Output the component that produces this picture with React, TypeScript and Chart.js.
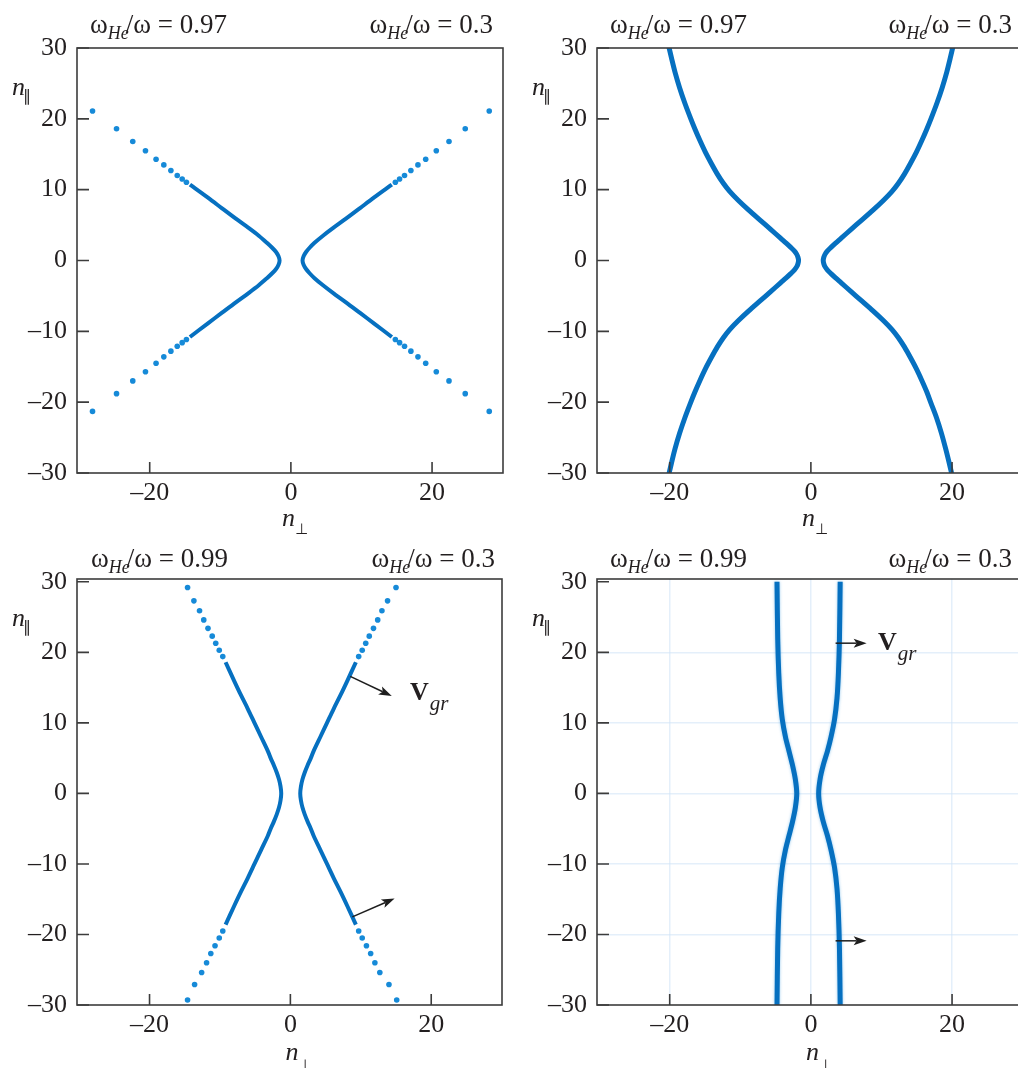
import React, { useEffect, useRef } from 'react';
import { Chart, registerables } from 'chart.js';

Chart.register(...registerables);

type Pt = [number, number];

// ---------- tick values ----------
const xTickValues = [-20, 0, 20];
const yTickValues = [-30, -20, -10, 0, 10, 20, 30];

// ---------- panel titles ----------
const leftRatios = ['0.97', '0.97', '0.99', '0.99'];
const rightRatios = ['0.3', '0.3', '0.3', '0.3'];

// ---------- panel 1 (top-left) ----------
const p1RightSolid: Pt[] = [
  [14.3, -10.8], [11.8, -8.9], [9.8, -7.4], [7.8, -5.9], [6.0, -4.6], [4.55, -3.5], [3.35, -2.5],
  [2.65, -1.8], [2.15, -1.2], [1.8, -0.6], [1.65, 0], [1.8, 0.6], [2.15, 1.2], [2.65, 1.8],
  [3.35, 2.5], [4.55, 3.5], [6.0, 4.6], [7.8, 5.9], [9.8, 7.4], [11.8, 8.9], [14.3, 10.7],
];
const p1LeftSolid: Pt[] = [
  [-14.3, -10.8], [-11.8, -8.9], [-9.8, -7.4], [-7.8, -5.9], [-6.0, -4.6], [-4.55, -3.5], [-3.4, -2.5],
  [-2.65, -1.8], [-2.1, -1.2], [-1.75, -0.6], [-1.6, 0], [-1.75, 0.6], [-2.1, 1.2], [-2.65, 1.8],
  [-3.4, 2.5], [-4.55, 3.5], [-6.0, 4.6], [-7.8, 5.9], [-9.8, 7.4], [-11.8, 8.9], [-14.3, 10.7],
];
const p1Dots: Pt[] = [
  [14.8, 11.05], [15.4, 11.5], [16.1, 12.0], [17.0, 12.7], [18.0, 13.5], [19.1, 14.3], [20.6, 15.5], [22.4, 16.8], [24.7, 18.6], [28.1, 21.1],
  [-14.8, 11.05], [-15.4, 11.5], [-16.1, 12.0], [-17.0, 12.7], [-18.0, 13.5], [-19.1, 14.3], [-20.6, 15.5], [-22.4, 16.8], [-24.7, 18.6], [-28.1, 21.1],
  [14.8, -11.15], [15.4, -11.6], [16.1, -12.1], [17.0, -12.8], [18.0, -13.6], [19.1, -14.5], [20.6, -15.7], [22.4, -17.0], [24.7, -18.8], [28.1, -21.3],
  [-14.8, -11.15], [-15.4, -11.6], [-16.1, -12.1], [-17.0, -12.8], [-18.0, -13.6], [-19.1, -14.5], [-20.6, -15.7], [-22.4, -17.0], [-24.7, -18.8], [-28.1, -21.3],
];

// ---------- panel 2 (top-right) ----------
const p2Left: Pt[] = [
  [-20.15, -30.3], [-19.75, -28.6], [-19.25, -26.6], [-18.6, -24.4], [-17.85, -22.2], [-17.05, -20.1],
  [-16.4, -18.5], [-15.7, -16.9], [-14.95, -15.3], [-14.1, -13.7], [-13.25, -12.2], [-12.4, -10.9],
  [-11.5, -9.75], [-10.3, -8.5], [-8.8, -7.1], [-7.2, -5.7], [-5.7, -4.4], [-4.3, -3.15], [-3.5, -2.45],
  [-2.85, -1.85], [-2.35, -1.35], [-2.02, -0.9], [-1.83, -0.45], [-1.75, 0], [-1.83, 0.45], [-2.02, 0.9],
  [-2.35, 1.35], [-2.85, 1.85], [-3.5, 2.45], [-4.3, 3.15], [-5.7, 4.4], [-7.2, 5.7], [-8.8, 7.1],
  [-10.3, 8.5], [-11.5, 9.75], [-12.4, 10.9], [-13.25, 12.2], [-14.1, 13.7], [-14.95, 15.3], [-15.7, 16.9],
  [-16.4, 18.5], [-17.05, 20.1], [-17.85, 22.2], [-18.6, 24.4], [-19.25, 26.6], [-19.75, 28.6], [-20.15, 30.3],
];
const p2Right: Pt[] = [
  [20.0, -30.3], [19.6, -28.6], [19.1, -26.6], [18.5, -24.4], [17.8, -22.2], [17.0, -20.1],
  [16.4, -18.5], [15.7, -16.9], [14.95, -15.3], [14.1, -13.7], [13.25, -12.2], [12.4, -10.9],
  [11.5, -9.75], [10.3, -8.5], [8.8, -7.1], [7.2, -5.7], [5.7, -4.4], [4.3, -3.15], [3.5, -2.45],
  [2.85, -1.85], [2.35, -1.35], [2.02, -0.9], [1.83, -0.45], [1.75, 0], [1.83, 0.45], [2.02, 0.9],
  [2.35, 1.35], [2.85, 1.85], [3.5, 2.45], [4.3, 3.15], [5.7, 4.4], [7.2, 5.7], [8.8, 7.1],
  [10.3, 8.5], [11.5, 9.75], [12.4, 10.9], [13.25, 12.2], [14.1, 13.7], [14.95, 15.3], [15.7, 16.9],
  [16.4, 18.5], [17.05, 20.1], [17.85, 22.2], [18.6, 24.4], [19.25, 26.6], [19.75, 28.6], [20.15, 30.3],
];

// ---------- panel 3 (bottom-left) ----------
const p3RightSolid: Pt[] = [
  [9.3, -18.6], [8.1, -16], [7.15, -14], [6.15, -12], [5.2, -10], [4.25, -8], [3.3, -6], [2.9, -5],
  [2.45, -4], [2.05, -3], [1.72, -2], [1.5, -1], [1.4, 0], [1.5, 1], [1.72, 2], [2.05, 3], [2.45, 4],
  [2.9, 5], [3.3, 6], [4.25, 8], [5.2, 10], [6.15, 12], [7.15, 14], [8.1, 16], [9.3, 18.6],
];
const p3LeftSolid: Pt[] = [
  [-9.2, -18.6], [-8.0, -16], [-7.05, -14], [-6.05, -12], [-5.1, -10], [-4.15, -8], [-3.2, -6], [-2.8, -5],
  [-2.35, -4], [-1.95, -3], [-1.62, -2], [-1.4, -1], [-1.3, 0], [-1.4, 1], [-1.62, 2], [-1.95, 3], [-2.35, 4],
  [-2.8, 5], [-3.2, 6], [-4.15, 8], [-5.1, 10], [-6.05, 12], [-7.05, 14], [-8.0, 16], [-9.2, 18.6],
];
const p3Dots: Pt[] = [
  [9.7, 19.4], [10.2, 20.3], [10.7, 21.3], [11.2, 22.3], [11.8, 23.4], [12.4, 24.6], [13.0, 25.9], [13.8, 27.3], [15.0, 29.2],
  [-9.6, 19.4], [-10.1, 20.3], [-10.6, 21.3], [-11.1, 22.3], [-11.7, 23.4], [-12.3, 24.6], [-12.9, 25.9], [-13.7, 27.3], [-14.6, 29.2],
  [9.7, -19.5], [10.2, -20.5], [10.8, -21.6], [11.4, -22.7], [12.0, -24.0], [12.7, -25.4], [14.0, -27.1], [15.1, -29.3],
  [-9.6, -19.5], [-10.1, -20.5], [-10.7, -21.6], [-11.3, -22.7], [-11.9, -24.0], [-12.6, -25.4], [-13.6, -27.1], [-14.6, -29.3],
];

// ---------- panel 4 (bottom-right) ----------
const p4Left: Pt[] = [
  [-4.8, -30], [-4.7, -22], [-4.55, -17], [-4.35, -13.5], [-4.05, -10.5], [-3.6, -8], [-3.1, -6],
  [-2.6, -4], [-2.2, -2], [-2.0, 0], [-2.2, 2], [-2.6, 4], [-3.1, 6], [-3.6, 8], [-4.05, 10.5],
  [-4.35, 13.5], [-4.55, 17], [-4.7, 22], [-4.8, 30],
];
const p4Right: Pt[] = [
  [4.15, -30], [4.05, -22], [3.9, -17], [3.7, -13.5], [3.35, -10.5], [2.85, -8], [2.35, -6],
  [1.75, -4], [1.3, -2], [1.1, 0], [1.3, 2], [1.75, 4], [2.35, 6], [2.85, 8], [3.35, 10.5],
  [3.7, 13.5], [3.9, 17], [4.05, 22], [4.15, 30],
];

// ---------- group-velocity arrows ----------
const p3Arrows: [Pt, Pt][] = [[[8.5, 16.6], [14.4, 13.8]], [[8.8, -17.5], [14.8, -14.9]]];
const p4Arrows: [Pt, Pt][] = [[[3.5, 21.3], [7.9, 21.3]], [[3.5, -20.9], [7.9, -20.9]]];
const p3Vgr: Pt = [17.0, 13.2];
const p4Vgr: Pt = [9.5, 20.3];

// ---------- styles ----------
const TEXT = '#231f20';
const AXIS = '#3c3c3c';
const LINE = '#0670c0';
const DOT = '#168ad8';
const SERIF = "'Liberation Serif', 'Times New Roman', serif";

interface Spec {
  left: number; top: number; width: number; height: number;
  area: { left: number; top: number; right: number; bottom: number };
  xMin: number; xMax: number; yMin: number; yMax: number;
  solids: Pt[][]; dots: Pt[]; lineWidth: number; grid: boolean; glow: boolean;
  leftRatio: string; rightRatio: string;
  titleLeftX: number; titleRightX: number; titleBaseline: number;
  xLabelDx: number; xLabelDy: number; xSubDy: number;
  arrows: [Pt, Pt][]; vgr: Pt | null;
}

const X_AXIS_H = 40;

const specs: Spec[] = [
  {
    left: 0, top: 0, width: 510, height: 540,
    area: { left: 77, top: 48, right: 503, bottom: 473 },
    xMin: -30.3, xMax: 30.05, yMin: -30, yMax: 30,
    solids: [p1LeftSolid, p1RightSolid], dots: p1Dots, lineWidth: 4, grid: false, glow: false,
    leftRatio: leftRatios[0], rightRatio: rightRatios[0],
    titleLeftX: 90, titleRightX: 493, titleBaseline: 33,
    xLabelDx: -9, xLabelDy: 53, xSubDy: 8, arrows: [], vgr: null,
  },
  {
    left: 510, top: 0, width: 518, height: 540,
    area: { left: 87, top: 48, right: 513, bottom: 473 },
    xMin: -30.3, xMax: 30.05, yMin: -30, yMax: 30,
    solids: [p2Left, p2Right], dots: [], lineWidth: 5, grid: false, glow: false,
    leftRatio: leftRatios[1], rightRatio: rightRatios[1],
    titleLeftX: 100, titleRightX: 502, titleBaseline: 33,
    xLabelDx: -9, xLabelDy: 53, xSubDy: 8, arrows: [], vgr: null,
  },
  {
    left: 0, top: 540, width: 510, height: 528,
    area: { left: 77, top: 39, right: 502, bottom: 465 },
    xMin: -30.3, xMax: 30.05, yMin: -30, yMax: 30.4,
    solids: [p3LeftSolid, p3RightSolid], dots: p3Dots, lineWidth: 4, grid: false, glow: false,
    leftRatio: leftRatios[2], rightRatio: rightRatios[2],
    titleLeftX: 91, titleRightX: 495, titleBaseline: 27,
    xLabelDx: -5, xLabelDy: 55, xSubDy: 10, arrows: p3Arrows, vgr: p3Vgr,
  },
  {
    left: 510, top: 540, width: 518, height: 528,
    area: { left: 87, top: 39, right: 513, bottom: 465 },
    xMin: -30.3, xMax: 30.05, yMin: -30, yMax: 30.4,
    solids: [p4Left, p4Right], dots: [], lineWidth: 5, grid: true, glow: true,
    leftRatio: leftRatios[3], rightRatio: rightRatios[3],
    titleLeftX: 100, titleRightX: 502, titleBaseline: 27,
    xLabelDx: -5, xLabelDy: 55, xSubDy: 10, arrows: p4Arrows, vgr: p4Vgr,
  },
];

function fmtTick(v: number): string {
  return v < 0 ? '\u2013' + Math.abs(v) : String(v);
}

function drawRatio(ctx: CanvasRenderingContext2D, x: number, y: number, value: string, alignRight: boolean) {
  const main = `27px ${SERIF}`;
  const sub = `italic 18px ${SERIF}`;
  const p1 = '\u03c9';
  const p2 = 'He';
  const p3 = '/\u03c9 = ' + value;
  ctx.font = main; const w1 = ctx.measureText(p1).width;
  ctx.font = sub; const w2 = ctx.measureText(p2).width;
  ctx.font = main; const w3 = ctx.measureText(p3).width;
  const overlap = 3;
  const total = w1 + w2 - overlap + w3;
  let sx = alignRight ? x - total : x;
  ctx.fillStyle = TEXT;
  ctx.textAlign = 'left';
  ctx.textBaseline = 'alphabetic';
  ctx.font = main; ctx.fillText(p1, sx, y);
  sx += w1;
  ctx.font = sub; ctx.fillText(p2, sx, y + 6);
  sx += w2 - overlap;
  ctx.font = main; ctx.fillText(p3, sx, y);
}

function drawArrow(ctx: CanvasRenderingContext2D, x1: number, y1: number, x2: number, y2: number) {
  const ang = Math.atan2(y2 - y1, x2 - x1);
  const head = 13, hw = 4.5, notch = 3;
  const c = Math.cos(ang), s = Math.sin(ang);
  const bx = x2 - head * c, by = y2 - head * s;
  ctx.beginPath();
  ctx.moveTo(x1, y1);
  ctx.lineTo(x2 - (head - notch) * c, y2 - (head - notch) * s);
  ctx.stroke();
  ctx.beginPath();
  ctx.moveTo(x2, y2);
  ctx.lineTo(bx - hw * s, by + hw * c);
  ctx.lineTo(x2 - (head - notch) * c, y2 - (head - notch) * s);
  ctx.lineTo(bx + hw * s, by - hw * c);
  ctx.closePath();
  ctx.fill();
}

function makePlugin(spec: Spec) {
  return {
    id: 'frame',
    beforeDatasetsDraw(chart: any) {
      if (!spec.glow) return;
      const ctx = chart.ctx as CanvasRenderingContext2D;
      ctx.save();
      ctx.shadowColor = 'rgba(70,160,225,0.6)';
      ctx.shadowBlur = 3;
    },
    afterDatasetsDraw(chart: any) {
      if (!spec.glow) return;
      chart.ctx.restore();
    },
    afterDraw(chart: any) {
      const ctx = chart.ctx as CanvasRenderingContext2D;
      const a = chart.chartArea;
      const xs = chart.scales.x, ys = chart.scales.y;
      ctx.save();
      ctx.shadowColor = 'transparent';
      ctx.strokeStyle = AXIS;
      ctx.lineWidth = 1.6;
      ctx.strokeRect(a.left, a.top, a.right - a.left, a.bottom - a.top);
      ctx.beginPath();
      for (const v of xTickValues) {
        const px = xs.getPixelForValue(v);
        ctx.moveTo(px, a.bottom); ctx.lineTo(px, a.bottom - 11);
      }
      for (const v of yTickValues) {
        const py = ys.getPixelForValue(v);
        ctx.moveTo(a.left, py); ctx.lineTo(a.left + 12, py);
      }
      ctx.stroke();

      // titles
      drawRatio(ctx, spec.titleLeftX, spec.titleBaseline, spec.leftRatio, false);
      drawRatio(ctx, spec.titleRightX, spec.titleBaseline, spec.rightRatio, true);

      // y label n_parallel
      ctx.fillStyle = TEXT;
      ctx.textAlign = 'left';
      ctx.textBaseline = 'alphabetic';
      ctx.font = `italic 26px ${SERIF}`;
      const nyX = a.left - 65, nyY = a.top + 47;
      ctx.fillText('n', nyX, nyY);
      const nW = ctx.measureText('n').width;
      ctx.font = `16px 'DejaVu Sans', sans-serif`;
      ctx.fillText('\u2225', nyX + nW - 2, nyY + 6);

      // x label n_perp
      ctx.font = `italic 26px ${SERIF}`;
      const nxX = xs.getPixelForValue(0) + spec.xLabelDx;
      const nxY = a.bottom + spec.xLabelDy;
      ctx.fillText('n', nxX, nxY);
      ctx.font = `15px 'DejaVu Sans', sans-serif`;
      ctx.fillText('\u22a5', nxX + nW, nxY + spec.xSubDy);

      // arrows
      ctx.strokeStyle = '#1e1e1e';
      ctx.fillStyle = '#1e1e1e';
      ctx.lineWidth = 1.5;
      for (const [p, q] of spec.arrows) {
        drawArrow(ctx, xs.getPixelForValue(p[0]), ys.getPixelForValue(p[1]), xs.getPixelForValue(q[0]), ys.getPixelForValue(q[1]));
      }
      if (spec.vgr) {
        const vx = xs.getPixelForValue(spec.vgr[0]);
        const vy = ys.getPixelForValue(spec.vgr[1]);
        ctx.fillStyle = TEXT;
        ctx.font = `bold 26px ${SERIF}`;
        ctx.fillText('V', vx, vy);
        const vw = ctx.measureText('V').width;
        ctx.font = `italic 21px ${SERIF}`;
        ctx.fillText('gr', vx + vw + 1, vy + 10);
      }
      ctx.restore();
    },
  };
}

function buildConfig(spec: Spec): any {
  const datasets: any[] = spec.solids.map((pts) => ({
    data: pts.map(([x, y]) => ({ x, y })),
    showLine: true,
    pointRadius: 0,
    borderColor: LINE,
    borderWidth: spec.lineWidth,
    tension: 0.3,
    fill: false,
  }));
  if (spec.dots.length) {
    datasets.push({
      data: spec.dots.map(([x, y]) => ({ x, y })),
      showLine: false,
      pointRadius: 2.8,
      pointBackgroundColor: DOT,
      pointBorderWidth: 0,
    });
  }
  const a = spec.area;
  const gridColor = (c: any) => (c.tick && Math.abs(c.tick.value) <= 20 ? 'rgba(205,225,245,0.55)' : 'transparent');
  return {
    type: 'scatter',
    data: { datasets },
    plugins: [makePlugin(spec)],
    options: {
      animation: false,
      responsive: false,
      maintainAspectRatio: false,
      events: [],
      layout: {
        padding: {
          left: 0,
          top: a.top,
          right: spec.width - a.right,
          bottom: spec.height - a.bottom - X_AXIS_H,
        },
      },
      plugins: { legend: { display: false }, tooltip: { enabled: false }, title: { display: false } },
      scales: {
        x: {
          type: 'linear',
          min: spec.xMin,
          max: spec.xMax,
          afterBuildTicks: (s: any) => { s.ticks = xTickValues.map((v) => ({ value: v })); },
          afterFit: (s: any) => { s.height = X_AXIS_H; },
          ticks: {
            callback: (v: number) => fmtTick(v),
            font: { family: SERIF, size: 26 },
            color: TEXT,
            padding: 5,
            maxRotation: 0,
            autoSkip: false,
          },
          grid: { display: spec.grid, drawTicks: false, color: gridColor, lineWidth: 1.5 },
          border: { display: false },
        },
        y: {
          type: 'linear',
          min: spec.yMin,
          max: spec.yMax,
          afterBuildTicks: (s: any) => { s.ticks = yTickValues.map((v) => ({ value: v })); },
          afterFit: (s: any) => { s.width = a.left; },
          ticks: {
            callback: (v: number) => fmtTick(v),
            font: { family: SERIF, size: 26 },
            color: TEXT,
            padding: 10,
            autoSkip: false,
          },
          grid: { display: spec.grid, drawTicks: false, color: gridColor, lineWidth: 1.5 },
          border: { display: false },
        },
      },
    },
  };
}

function Panel({ spec }: { spec: Spec }) {
  const ref = useRef<HTMLCanvasElement>(null);
  useEffect(() => {
    if (!ref.current) return;
    const chart = new Chart(ref.current, buildConfig(spec));
    return () => chart.destroy();
  }, [spec]);
  return (
    <canvas
      ref={ref}
      width={spec.width}
      height={spec.height}
      style={{ position: 'absolute', left: spec.left, top: spec.top, width: spec.width, height: spec.height }}
    />
  );
}

export default function App() {
  return (
    <div
      style={{
        position: 'absolute', left: 0, top: 0, width: 1018, height: 1068,
        overflow: 'hidden', background: '#ffffff',
      }}
    >
      {specs.map((s, i) => (
        <Panel key={i} spec={s} />
      ))}
    </div>
  );
}
